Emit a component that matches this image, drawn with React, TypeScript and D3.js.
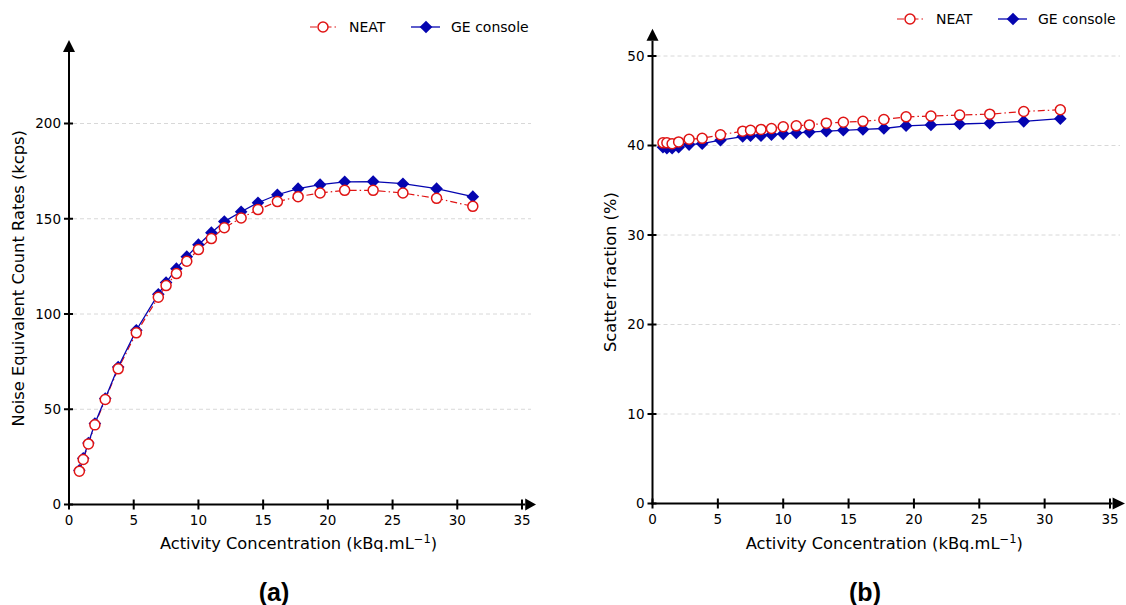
import * as d3 from "d3";

// activity concentration (kBq/mL), shared by both panels
const activity = [
  0.8, 1.1, 1.5, 2.0, 2.8, 3.8, 5.2, 6.9, 7.5, 8.3, 9.1, 10.0, 11.0, 12.0,
  13.3, 14.6, 16.1, 17.7, 19.4, 21.3, 23.5, 25.8, 28.4, 31.2,
];

// (a) NECR, kcps
const necrNeat = [
  17.5, 23.6, 31.8, 41.8, 55.1, 71.2, 90.1, 108.8, 114.9, 121.2, 127.7, 133.8,
  139.6, 145.3, 150.4, 154.8, 159.0, 161.6, 163.5, 164.9, 164.9, 163.5, 160.7,
  156.5,
];
const necrGe = [
  18.0, 24.3, 32.3, 42.5, 55.6, 72.2, 91.5, 110.4, 116.5, 123.8, 130.1, 136.4,
  142.7, 148.5, 153.7, 158.4, 162.6, 165.8, 167.9, 169.4, 169.5, 168.4, 165.8,
  161.6,
];

// (b) scatter fraction, %
const sfNeat = [
  40.3, 40.3, 40.2, 40.4, 40.7, 40.8, 41.2, 41.6, 41.7, 41.8, 41.9, 42.1,
  42.2, 42.3, 42.5, 42.6, 42.7, 42.9, 43.2, 43.3, 43.4, 43.5, 43.8, 44.0,
];
const sfGe = [
  39.8, 39.7, 39.7, 39.8, 40.1, 40.2, 40.6, 41.0, 41.1, 41.1, 41.2, 41.3,
  41.4, 41.5, 41.6, 41.7, 41.8, 41.9, 42.2, 42.3, 42.4, 42.5, 42.7, 43.0,
];

const xTicks = [0, 5, 10, 15, 20, 25, 30, 35];
const necrTicks = [0, 50, 100, 150, 200];
const sfTicks = [0, 10, 20, 30, 40, 50];

const RED = "#e01414";
const BLUE = "#0505b0";
const tickFont = "DejaVu Sans, sans-serif";

const Panel = (props) => {
  const {
    x0, x1, xEnd, gridEnd, y0, y1, yMax, yTicks, yTop, xArrowEnd,
    neat, ge, yLabel, yLabelX, tag, tagX, legendX, legendY,
  } = props;

  const xScale = d3.scaleLinear().domain([0, 35]).range([x0, x1]);
  const yScale = d3.scaleLinear().domain([0, yMax]).range([y0, y1]);

  const pts = (vals) => activity.map((a, i) => [xScale(a), yScale(vals[i])]);
  const line = d3.line();
  const neatPts = pts(neat);
  const gePts = pts(ge);
  const diamond = (s) => `M0,${-s}L${s},0L0,${s}L${-s},0Z`;

  const ax = xScale(0);
  const ay = yScale(0);
  const yAxisTop = yScale(yTop);
  const xAxisEnd = xScale(xEnd);
  const midX = (x0 + x1) / 2;

  return (
    <g>
      {/* grid */}
      {yTicks.filter((t) => t > 0).map((t) => (
        <line key={t} x1={ax + 4} x2={gridEnd} y1={yScale(t)} y2={yScale(t)}
          stroke="#d8d8d8" strokeWidth="1" strokeDasharray="4,3" />
      ))}

      {/* axes */}
      <line x1={ax} x2={ax} y1={ay + 1} y2={yAxisTop} stroke="#000" strokeWidth="2" />
      <path d={`M${ax - 6},${yAxisTop}L${ax + 6},${yAxisTop}L${ax},${yAxisTop - 12}Z`} fill="#000" />
      <line x1={ax - 1} x2={xAxisEnd} y1={ay} y2={ay} stroke="#000" strokeWidth="2" />
      <path d={`M${xAxisEnd},${ay - 6}L${xAxisEnd},${ay + 6}L${xArrowEnd},${ay}Z`} fill="#000" />

      {yTicks.map((t) => (
        <g key={t} transform={`translate(${ax},${yScale(t)})`}>
          <line x1={-5} x2={4} stroke="#000" strokeWidth="2" />
          <text x={-8} dy="0.36em" textAnchor="end" fontSize="13.5" fontFamily={tickFont}>{t}</text>
        </g>
      ))}
      {xTicks.map((t) => (
        <g key={t} transform={`translate(${xScale(t)},${ay})`}>
          <line y1={-5} y2={5} stroke="#000" strokeWidth="2" />
          <text y={20} textAnchor="middle" fontSize="13.5" fontFamily={tickFont}>{t}</text>
        </g>
      ))}

      {/* series */}
      <path d={line(neatPts)} fill="none" stroke={RED} strokeWidth="1.2" strokeDasharray="7,3,1.5,3" />
      <path d={line(gePts)} fill="none" stroke={BLUE} strokeWidth="1.3" />
      {gePts.map(([px, py], i) => (
        <path key={i} d={diamond(6.3)} transform={`translate(${px},${py})`} fill={BLUE} />
      ))}
      {neatPts.map(([px, py], i) => (
        <circle key={i} cx={px} cy={py} r={5} fill="#fff" stroke={RED} strokeWidth="1.5" />
      ))}

      {/* labels */}
      <text transform={`translate(${yLabelX},${(y0 + yAxisTop) / 2}) rotate(-90)`}
        textAnchor="middle" fontSize="16.3" fontFamily={tickFont}>{yLabel}</text>
      <text x={midX + 3} y={549} textAnchor="middle" fontSize="16.3" fontFamily={tickFont}>
        Activity Concentration (kBq.mL
        <tspan dy="-6" fontSize="11.5">−1</tspan>
        <tspan dy="6">)</tspan>
      </text>
      <text x={tagX} y={601} textAnchor="middle" fontSize="25" fontWeight="bold"
        fontFamily="Liberation Sans, Arial, sans-serif">{tag}</text>

      {/* legend */}
      <g transform={`translate(${legendX},${legendY})`} fontFamily={tickFont} fontSize="14">
        <line x1={0} x2={28} stroke={RED} strokeWidth="1.2" strokeDasharray="7,3,1.5,3" />
        <circle cx={13} r={5} fill="#fff" stroke={RED} strokeWidth="1.5" />
        <text x={39} dy="0.35em">NEAT</text>
        <line x1={101} x2={130} stroke={BLUE} strokeWidth="1.3" />
        <path d={diamond(6.3)} transform="translate(116,0)" fill={BLUE} />
        <text x={141} dy="0.35em">GE console</text>
      </g>
    </g>
  );
};

const App = () => {
  return (
    <svg width={1126} height={605} style={{ position: "absolute", left: 0, top: 0, background: "#fff" }}>
      <Panel
        x0={69} x1={522} xEnd={35.25} xArrowEnd={536} gridEnd={531}
        y0={504.5} y1={123.5} yMax={200} yTicks={necrTicks} yTop={237.5}
        neat={necrNeat} ge={necrGe}
        yLabel="Noise Equivalent Count Rates (kcps)" yLabelX={24}
        tag="(a)" tagX={274} legendX={310} legendY={27}
      />
      <Panel
        x0={652.5} x1={1110} xEnd={35.2} xArrowEnd={1125} gridEnd={1120}
        y0={503.5} y1={56} yMax={50} yTicks={sfTicks} yTop={51.7}
        neat={sfNeat} ge={sfGe}
        yLabel="Scatter fraction (%)" yLabelX={616}
        tag="(b)" tagX={865} legendX={897} legendY={19}
      />
    </svg>
  );
};

export default App;
